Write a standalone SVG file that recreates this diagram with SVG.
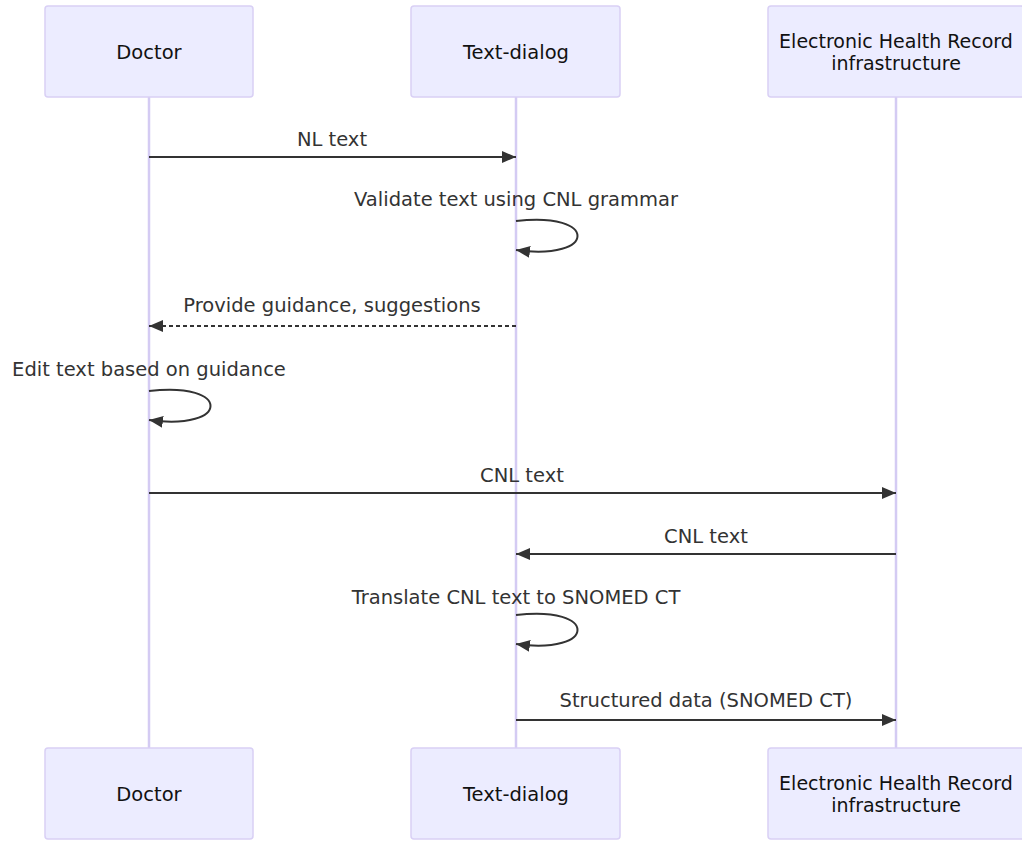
<svg xmlns="http://www.w3.org/2000/svg" width="1022" height="841" viewBox="0 0 1022 841">
<style>
.box{fill:#ECECFF;stroke:#d9d0f5;stroke-width:1.5}
.life{stroke:#d4cbf3;stroke-width:2.5}
.at{font-family:"DejaVu Sans",sans-serif;font-size:19.5px;fill:#111;text-anchor:middle}
.at2{font-family:"DejaVu Sans",sans-serif;font-size:19px;fill:#111;text-anchor:middle}
.ml{font-family:"DejaVu Sans",sans-serif;font-size:19.5px;fill:#333;text-anchor:middle}
.msg{stroke:#333;stroke-width:2;fill:none}
.dash{stroke-dasharray:4,3}
</style>
<defs>
<marker id="ah" viewBox="0 0 14 12" refX="14" refY="6" markerWidth="14" markerHeight="12" markerUnits="userSpaceOnUse" orient="auto">
<path d="M0,0 L14,6 L0,12 z" fill="#333"/>
</marker>
</defs>
<g id="lifelines">
<line class="life" x1="149" y1="97" x2="149" y2="748"/>
<line class="life" x1="516" y1="97" x2="516" y2="748"/>
<line class="life" x1="896" y1="97" x2="896" y2="748"/>
</g>
<g id="actor-doctor-top"><rect class="box" x="45" y="6" width="208" height="91" rx="3"/><text class="at" x="149" y="59">Doctor</text></g>
<g id="actor-text-top"><rect class="box" x="411" y="6" width="209" height="91" rx="3"/><text class="at" x="516" y="59">Text-dialog</text></g>
<g id="actor-ehr-top"><rect class="box" x="768" y="6" width="256" height="91" rx="3"/><text class="at2" x="896" y="48">Electronic Health Record</text><text class="at2" x="896" y="70">infrastructure</text></g>
<g id="actor-doctor-bottom"><rect class="box" x="45" y="748" width="208" height="91" rx="3"/><text class="at" x="149" y="801">Doctor</text></g>
<g id="actor-text-bottom"><rect class="box" x="411" y="748" width="209" height="91" rx="3"/><text class="at" x="516" y="801">Text-dialog</text></g>
<g id="actor-ehr-bottom"><rect class="box" x="768" y="748" width="256" height="91" rx="3"/><text class="at2" x="896" y="790">Electronic Health Record</text><text class="at2" x="896" y="812">infrastructure</text></g>
<g id="connectors">
<text class="ml" x="332" y="146">NL text</text>
<line class="msg" x1="149" y1="157" x2="516" y2="157" marker-end="url(#ah)"/>
<text class="ml" x="516" y="206">Validate text using CNL grammar</text>
<path class="msg" d="M516,221 C598,211 598,261 516,250" marker-end="url(#ah)"/>
<text class="ml" x="332" y="312">Provide guidance, suggestions</text>
<line class="msg dash" x1="516" y1="326" x2="149" y2="326" marker-end="url(#ah)"/>
<text class="ml" x="149" y="376">Edit text based on guidance</text>
<path class="msg" d="M149,391 C231,381 231,431 149,420" marker-end="url(#ah)"/>
<text class="ml" x="522" y="482">CNL text</text>
<line class="msg" x1="149" y1="493" x2="896" y2="493" marker-end="url(#ah)"/>
<text class="ml" x="706" y="543">CNL text</text>
<line class="msg" x1="896" y1="554" x2="516" y2="554" marker-end="url(#ah)"/>
<text class="ml" x="516" y="604">Translate CNL text to SNOMED CT</text>
<path class="msg" d="M516,615 C598,605 598,655 516,644" marker-end="url(#ah)"/>
<text class="ml" x="706" y="707">Structured data (SNOMED CT)</text>
<line class="msg" x1="516" y1="720" x2="896" y2="720" marker-end="url(#ah)"/>
</g>
</svg>
